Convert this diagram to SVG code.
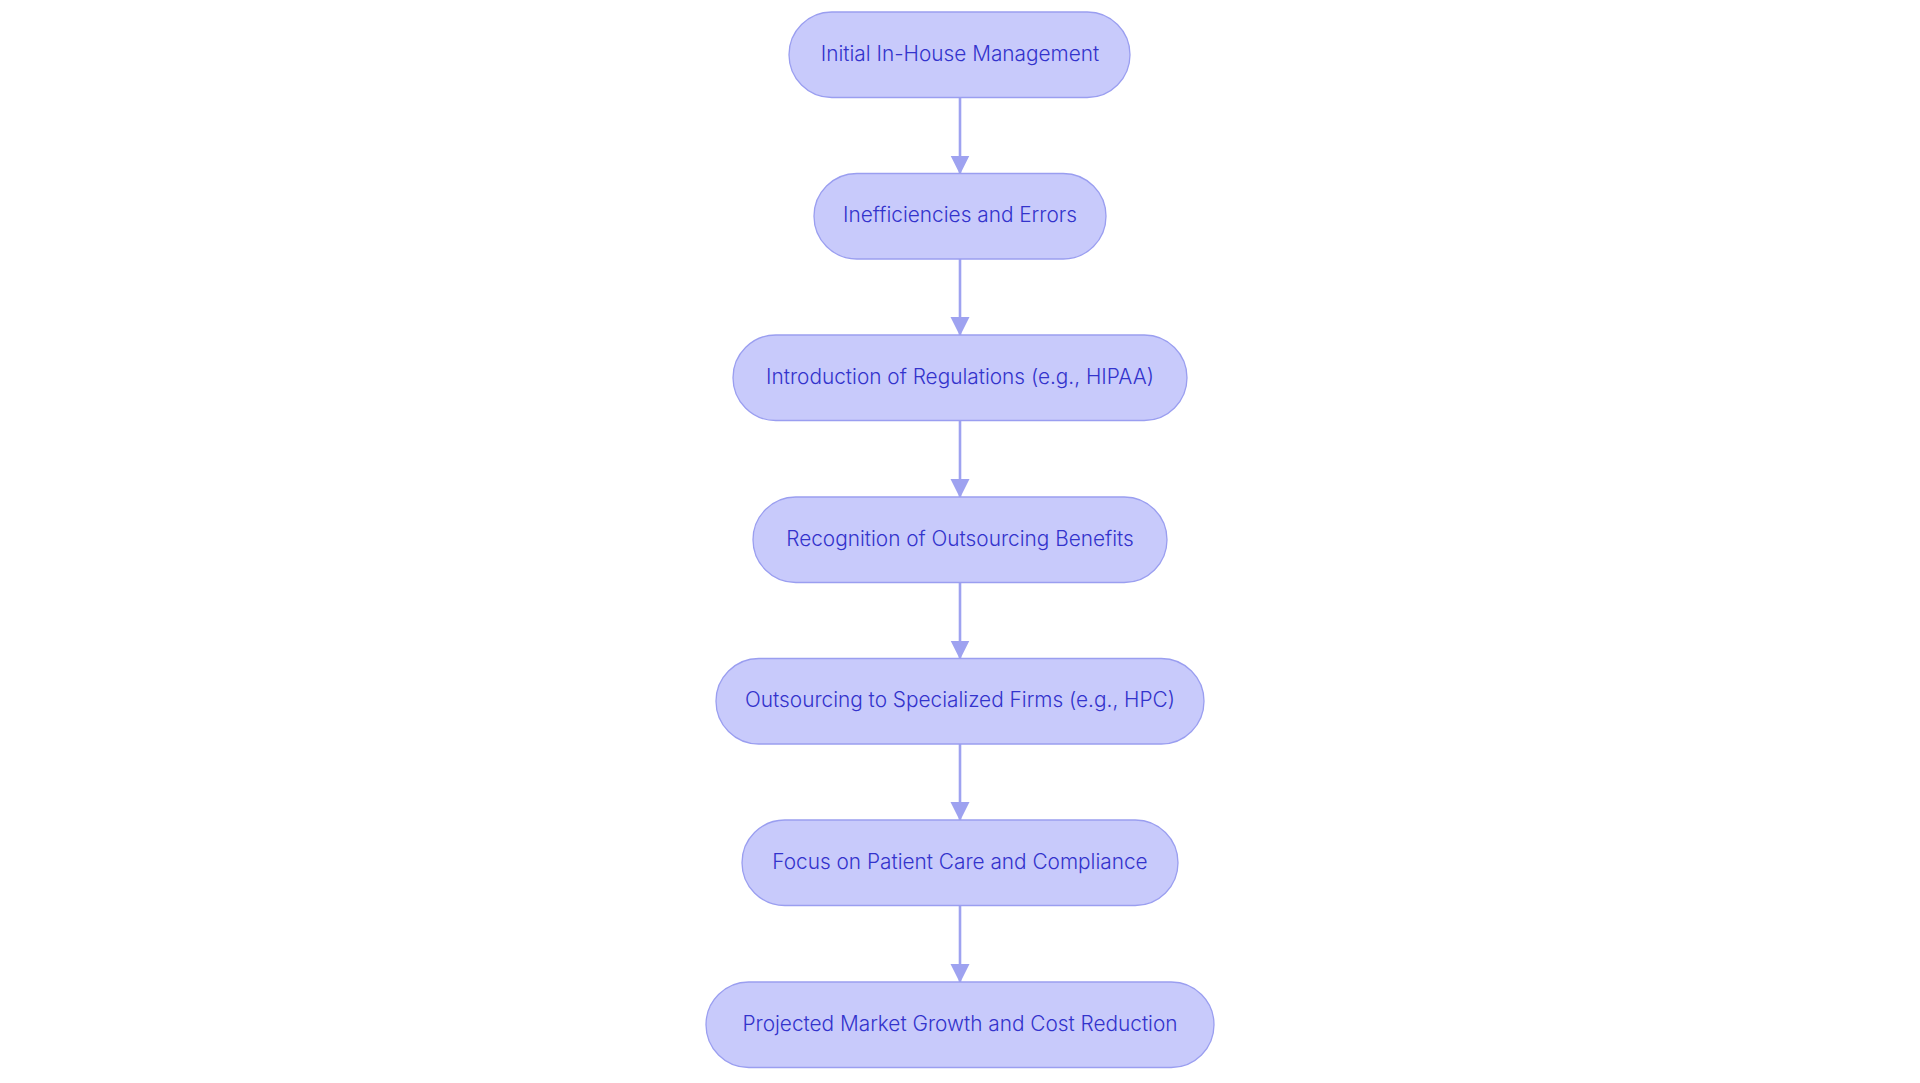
<svg xmlns="http://www.w3.org/2000/svg" width="1920" height="1083" viewBox="0 0 1920 1083">
<style>
.node rect{fill:#c8cafb;stroke:#9a9ef0;stroke-width:1.3}
.node text{fill:#3333cc;font-family:Inter,"Noto Sans","Liberation Sans",sans-serif;font-size:20.8px;font-weight:350;text-anchor:middle;dominant-baseline:central}
.edge{stroke:#9ea2f0;stroke-width:2.6;fill:none}
</style>
<defs>
<marker id="ah" markerUnits="userSpaceOnUse" markerWidth="20" markerHeight="20" refX="18" refY="9.5" orient="auto">
<path d="M0,0 L19,9.5 L0,19 Z" fill="#9ea2f0"/>
</marker>
</defs>
<rect width="1920" height="1083" fill="#ffffff"/>
<g id="connectors">
<line class="edge" x1="960" y1="97.5" x2="960" y2="173.5" marker-end="url(#ah)"/>
<line class="edge" x1="960" y1="259" x2="960" y2="335" marker-end="url(#ah)"/>
<line class="edge" x1="960" y1="421" x2="960" y2="497" marker-end="url(#ah)"/>
<line class="edge" x1="960" y1="582.5" x2="960" y2="658.5" marker-end="url(#ah)"/>
<line class="edge" x1="960" y1="744" x2="960" y2="820" marker-end="url(#ah)"/>
<line class="edge" x1="960" y1="906" x2="960" y2="982" marker-end="url(#ah)"/>
</g>
<g id="n1" class="node"><rect x="789" y="12" width="341" height="85.5" rx="42.75"/><text x="960" y="53">Initial In-House Management</text></g>
<g id="n2" class="node"><rect x="814" y="173.5" width="292" height="85.5" rx="42.75"/><text x="960" y="214.5">Inefficiencies and Errors</text></g>
<g id="n3" class="node"><rect x="733" y="335" width="454" height="85.5" rx="42.75"/><text x="960" y="376">Introduction of Regulations (e.g., HIPAA)</text></g>
<g id="n4" class="node"><rect x="753" y="497" width="414" height="85.5" rx="42.75"/><text x="960" y="538">Recognition of Outsourcing Benefits</text></g>
<g id="n5" class="node"><rect x="716" y="658.5" width="488" height="85.5" rx="42.75"/><text x="960" y="699.5">Outsourcing to Specialized Firms (e.g., HPC)</text></g>
<g id="n6" class="node"><rect x="742" y="820" width="436" height="85.5" rx="42.75"/><text x="960" y="861">Focus on Patient Care and Compliance</text></g>
<g id="n7" class="node"><rect x="706" y="982" width="508" height="85.5" rx="42.75"/><text x="960" y="1023">Projected Market Growth and Cost Reduction</text></g>
</svg>
